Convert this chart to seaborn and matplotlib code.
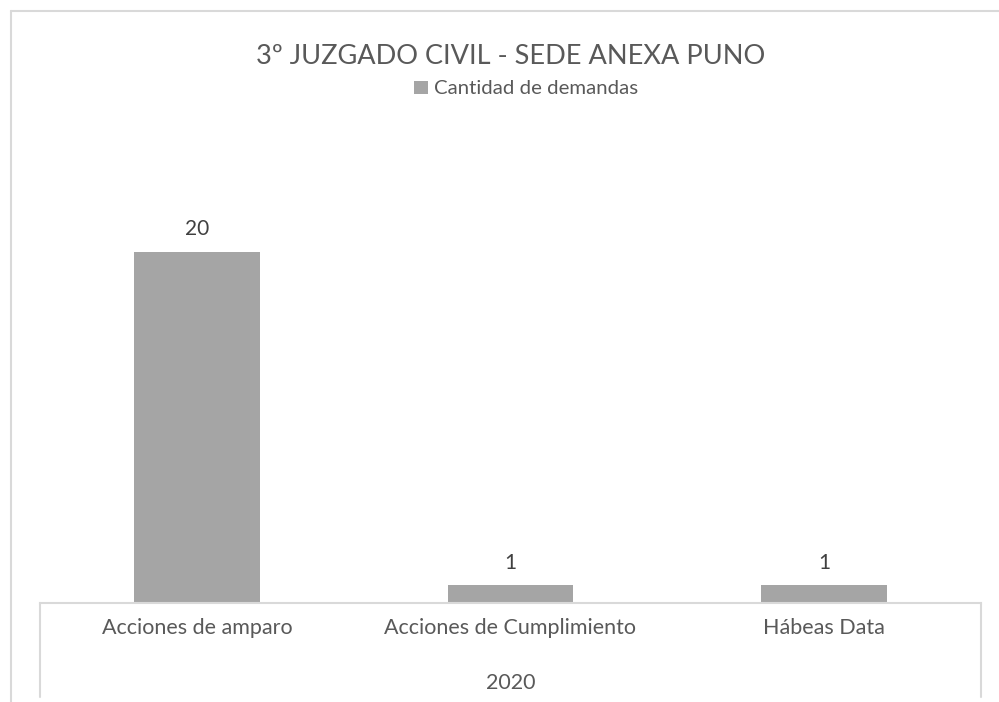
import matplotlib
matplotlib.use("Agg")
import matplotlib.pyplot as plt
import seaborn as sns
import pandas as pd
from matplotlib.lines import Line2D
from matplotlib.patches import Rectangle

categories = ["Acciones de amparo", "Acciones de Cumplimiento", "Hábeas Data"]
values = [20, 1, 1]
group_label = "2020"
series_name = "Cantidad de demandas"
title = "3º JUZGADO CIVIL - SEDE ANEXA PUNO"

sns.set_theme(style="white")
plt.rcParams["font.family"] = ["Lato", "DejaVu Sans"]

W, H = 999, 702
fig = plt.figure(figsize=(W / 100, H / 100), dpi=100)
fig.patch.set_facecolor("white")

def fx(x):
    return x / W

def fy(y):
    return 1 - y / H

ax_left, ax_right, ax_bottom, ax_top = 40, 981, 603, 164
ax = fig.add_axes([fx(ax_left), fy(ax_bottom), (ax_right - ax_left) / W, (ax_bottom - ax_top) / H])

df = pd.DataFrame({"cat": categories, "val": values})
bar_color = "#A5A5A5"
sns.barplot(data=df, x="cat", y="val", color=bar_color, width=0.4, ax=ax,
            saturation=1, edgecolor="none")
ax.set_ylim(0, 25)
ax.set_xlim(-0.5, len(categories) - 0.5)
ax.set_xlabel("")
ax.set_ylabel("")
ax.set_yticks([])
for s in ["left", "right", "top"]:
    ax.spines[s].set_visible(False)
ax.spines["bottom"].set_color("#D9D9D9")
ax.spines["bottom"].set_linewidth(1.5)
ax.tick_params(axis="x", length=0, pad=11, labelsize=15.5, labelcolor="#595959")

for cont in ax.containers:
    ax.bar_label(cont, labels=[str(v) for v in values], padding=9,
                 fontsize=15, color="#404040")

text_color = "#595959"
fig.text(fx(511), fy(56), title, ha="center", va="center", fontsize=19.5, color=text_color)

# legend
leg_handle = Rectangle((0, 0), 1, 1, facecolor=bar_color, edgecolor="none")
fig.legend([leg_handle], [series_name], loc="center", bbox_to_anchor=(fx(526), fy(89)),
           frameon=False, fontsize=14.7, labelcolor=text_color, handlelength=0.65,
           handleheight=0.65, handletextpad=0.3)

fig.text(fx(511), fy(683), group_label, ha="center", va="center", fontsize=15.5, color=text_color)

line_c = "#D9D9D9"
for x in (ax_left, ax_right):
    fig.add_artist(Line2D([fx(x), fx(x)], [fy(603), fy(697)], color=line_c, lw=1.5,
                          transform=fig.transFigure))

# outer chart border
fig.add_artist(Line2D([fx(11), fx(11)], [fy(11), fy(702)], color=line_c, lw=1.5,
                      transform=fig.transFigure))
fig.add_artist(Line2D([fx(11), fx(999)], [fy(11), fy(11)], color=line_c, lw=1.5,
                      transform=fig.transFigure))

fig.savefig("out.png", dpi=100, facecolor="white")
